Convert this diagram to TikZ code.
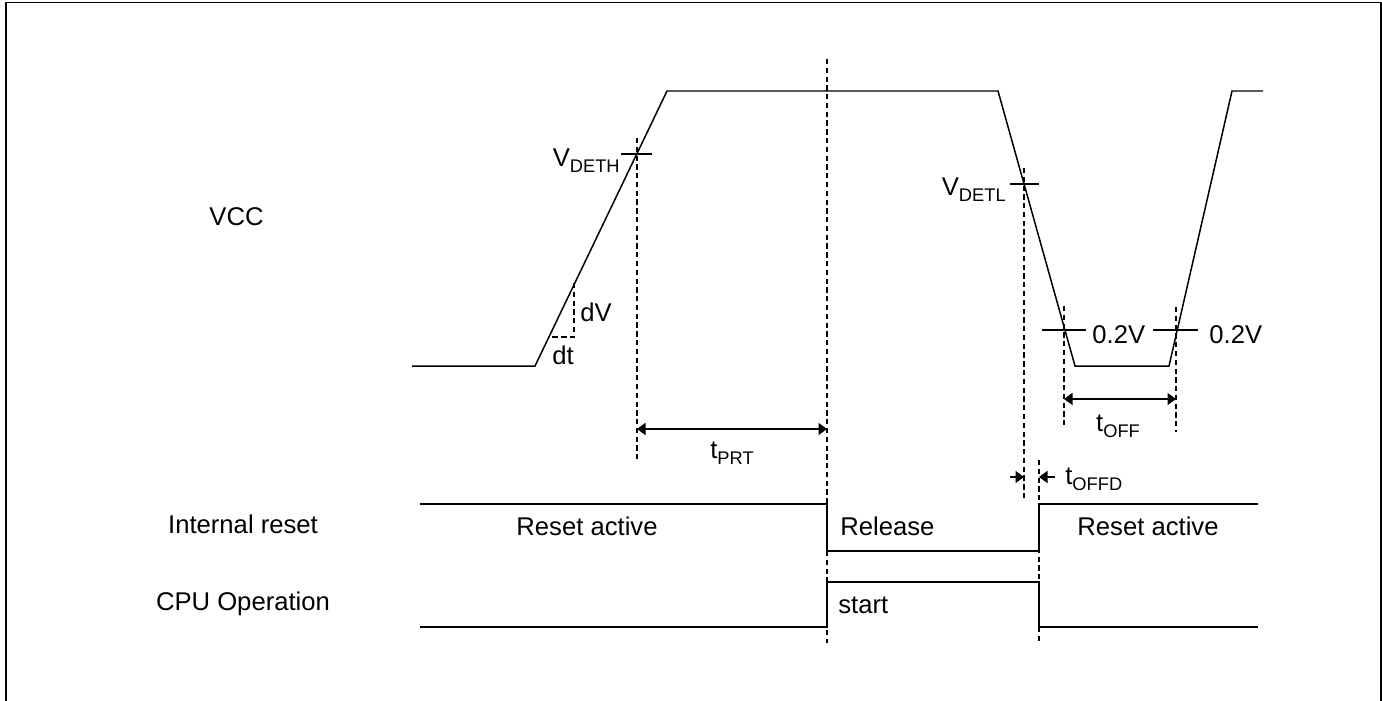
\documentclass[tikz,border=0pt]{standalone}
\usepackage{fontspec}
\setmainfont{Liberation Sans}
\usepackage{tikz}
\usetikzlibrary{arrows.meta}
\def\lo#1{\raisebox{-0.45ex}{\fontsize{10.4}{11}\selectfont #1}}
\tikzset{
	wave/.style={line width=0.85pt, line join=miter},
	guide/.style={line width=0.7pt, dash pattern=on 3pt off 2pt},
	span/.style={line width=0.85pt, {Triangle[length=0.17cm,width=0.24cm]}-{Triangle[length=0.17cm,width=0.24cm]}},
	half/.style={line width=0.85pt, -{Triangle[length=0.17cm,width=0.24cm]}},
	lbl/.style={inner sep=0pt, font=\fontsize{14.6}{17}\selectfont},
}

\begin{document}
\begin{tikzpicture}[x=0.02cm, y=-0.02cm]
			%%%%% START %%%%%
			\useasboundingbox (0,0) rectangle (1382,700);
			\draw[line width=1pt] (6,705) -- (6,2.5) -- (1381,2.5) -- (1381,705);
			
			%%%%% VCC %%%%%
			\draw[wave] (412,366) -- (535,366) -- (667,91) -- (998,91) -- (1075,366) -- (1169,366) -- (1232,91) -- (1263,91);
			
			\draw[guide] (574,283) -- (574,337) -- (549,337);
			\node[lbl, anchor=base west] (dv) at (580,321) {dV};
			\node[lbl, anchor=base west] (dt) at (552,364) {dt};
			
			\draw[line width=0.85pt] (621,154) -- (652,154);
			\node[lbl, anchor=base east] (vdeth) at (620,166) {V\lo{DETH}};
			\draw[line width=0.85pt] (1010,184) -- (1039,184);
			\node[lbl, anchor=base east] (vdetl) at (1006,195) {V\lo{DETL}};
			
			\draw[line width=0.85pt] (1042,330) -- (1086,330);
			\node[lbl, anchor=base west] (lvla) at (1092,343) {0.2V};
			\draw[line width=0.85pt] (1153,330) -- (1198,330);
			\node[lbl, anchor=base west] (lvlb) at (1209,343) {0.2V};
			
			%%%%% guides %%%%%
			\draw[guide] (637,138) -- (637,459);
			\draw[guide] (827,59) -- (827,643);
			\draw[guide] (1024,168) -- (1024,498);
			\draw[guide] (1039,460) -- (1039,643);
			\draw[guide] (1064,306) -- (1064,428);
			\draw[guide] (1176,307) -- (1176,432);
			
			\draw[span] (637,429) -- (827,429);
			\node[lbl, anchor=base] (tprt) at (732,458) {t\lo{PRT}};
			\draw[span] (1064,399) -- (1176,399);
			\node[lbl, anchor=base] (toff) at (1118,431) {t\lo{OFF}};
			\draw[half] (1010,477) -- (1024,477);
			\draw[half] (1055,477) -- (1039,477);
			\node[lbl, anchor=base west] (toffd) at (1065,484) {t\lo{OFFD}};
			
			%%%%% reset and cpu %%%%%
			\draw[wave] (420,504) -- (827,504) -- (827,551) -- (1039,551) -- (1039,504) -- (1258,504);
			\draw[wave] (420,627) -- (827,627) -- (827,582) -- (1039,582) -- (1039,627) -- (1258,627);
			
			\node[lbl, anchor=base] (rsta) at (587,535) {Reset active};
			\node[lbl, anchor=base west] (rel) at (840,535) {Release};
			\node[lbl, anchor=base] (rstb) at (1148,535) {Reset active};
			\node[lbl, anchor=base west] (start) at (838,613) {start};
			
			\node[lbl, anchor=base] (vcc) at (236.5,225) {VCC};
			\node[lbl, anchor=base] (irst) at (243,533) {Internal reset};
			\node[lbl, anchor=base] (cpu) at (243,610) {CPU Operation};
			
			%%%%% END %%%%%
\end{tikzpicture}
\end{document}
